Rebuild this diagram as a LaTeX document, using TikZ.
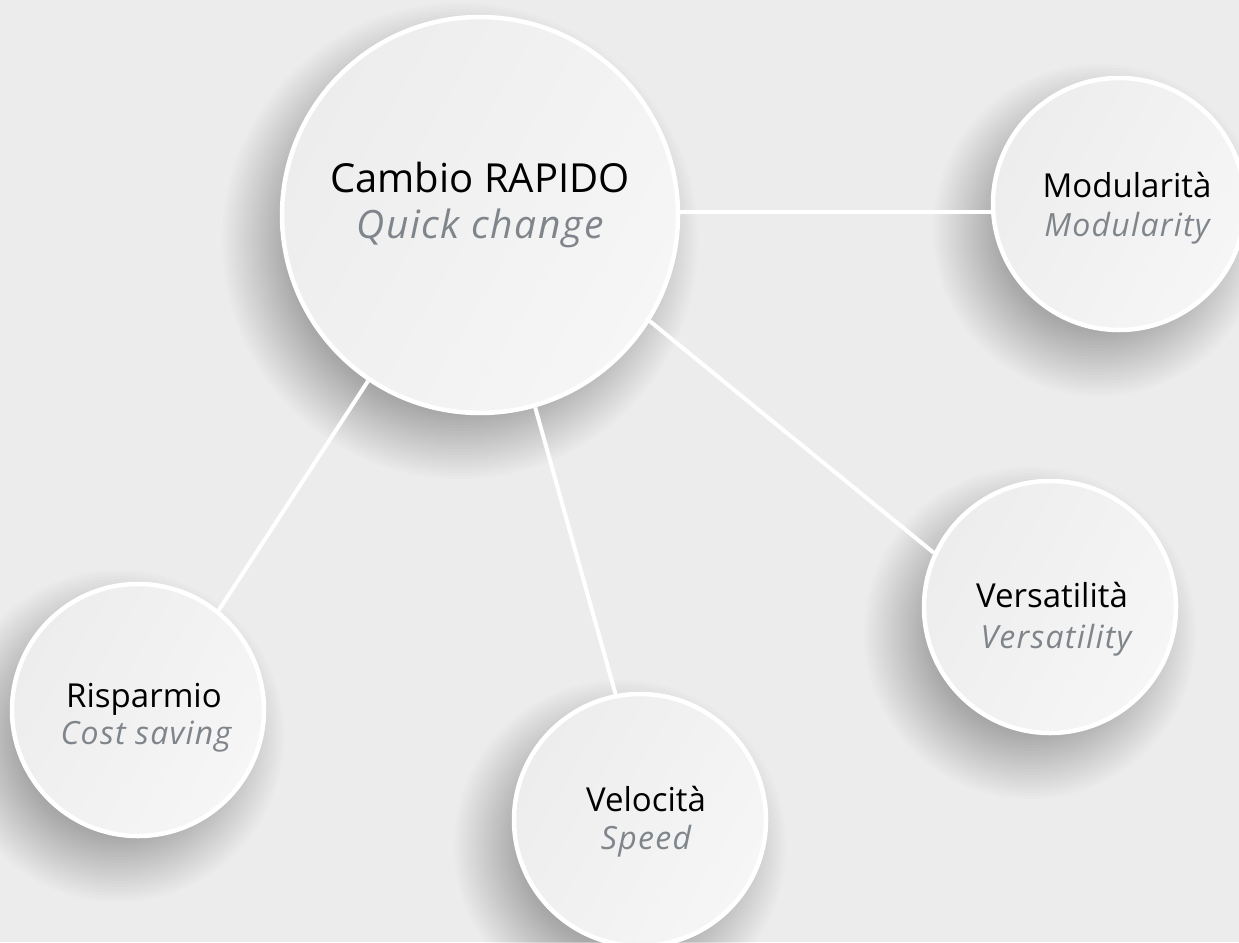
\documentclass[tikz,border=0pt]{standalone}
\usepackage{fontspec}
\setmainfont{Open Sans}
\newfontfamily\subfam{Open Sans}[LetterSpace=4]
\definecolor{bg}{HTML}{ECECED}
\definecolor{fillA}{HTML}{EDEDEE}
\definecolor{fillB}{HTML}{F6F6F7}
\definecolor{subgray}{HTML}{7F858A}
\begin{document}
\begin{tikzpicture}[x=1pt,y=-1pt,
  bub/.style={circle, draw=white, line width=4.5pt, inner sep=0pt,
    left color=fillA, right color=fillB, shading angle=60},
  big/.style={minimum size=396pt},
  small/.style={minimum size=252pt},
  link/.style={draw=white, line width=4pt},
  shadowring/.style={fill=black, opacity=0.01},
  ttl/.style={anchor=base, inner sep=0pt, text=black, font=\fontsize{33}{33}\selectfont},
  sub/.style={anchor=base, inner sep=0pt, text=subgray, font=\subfam\itshape\fontsize{32}{32}\selectfont},
  bigttl/.style={ttl, font=\fontsize{40}{40}\selectfont},
  bigsub/.style={sub, font=\subfam\itshape\fontsize{39}{39}\selectfont}]
\useasboundingbox (0,0) rectangle (1239,942);
\fill[bg] (0,0) rectangle (1239,942);

\coordinate (pmain) at (480,215);
\coordinate (pmod) at (1119,204);
\coordinate (pver) at (1050,607);
\coordinate (pris) at (138,710);
\coordinate (pvel) at (640,820);

% soft shadows, towards the lower left
\foreach \c/\r in {pmain/200, pmod/128, pver/128, pris/128, pvel/128}{
  \foreach \i in {0,...,23}{
    \fill[shadowring, shift={(\c)}] (-20,26) circle[radius={(\r+38-3*\i)*1pt}];
  }
}

% circles
\node[bub, big] (main) at (pmain) {};
\node[bub, small] (mod) at (pmod) {};
\node[bub, small] (ver) at (pver) {};
\node[bub, small] (ris) at (pris) {};
\node[bub, small] (vel) at (pvel) {};

% connectors, from border to border
\draw[link] (main.1) -- (main.1 -| mod.west);
\draw[link] (main.-32.5) -- (ver.155.4);
\draw[link] (main.236) -- (ris.51);
\draw[link] (main.-74) -- (vel.101);

\node[bigttl] (mainA) at (480,192) {Cambio RAPIDO};
\node[bigsub] (mainB) at (480,238) {Quick change};
\node[ttl] (modA) at (1127,197) {Modularità};
\node[sub] (modB) at (1127,236) {Modularity};
\node[ttl] (verA) at (1052,607) {Versatilità};
\node[sub] (verB) at (1056,648) {Versatility};
\node[ttl] (risA) at (144,707) {Risparmio};
\node[sub] (risB) at (146,744) {Cost saving};
\node[ttl] (velA) at (646,811) {Velocità};
\node[sub] (velB) at (646,849) {Speed};
\end{tikzpicture}
\end{document}
